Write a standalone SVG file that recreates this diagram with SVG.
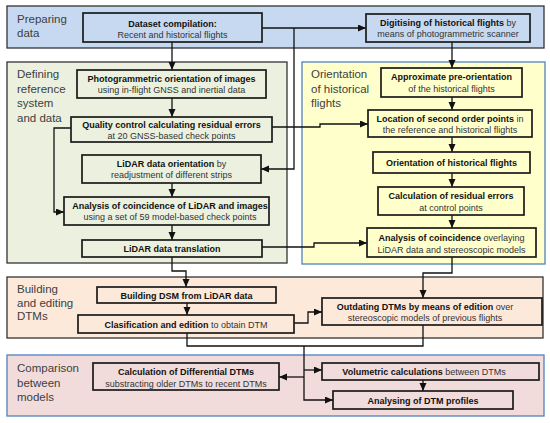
<svg xmlns="http://www.w3.org/2000/svg" width="550" height="423" viewBox="0 0 550 423">
<style>
text{font-family:"Liberation Sans",Arial,sans-serif}
.sec{stroke-width:1.3}
.lab{font-size:11.5px;fill:#404040}
.box{stroke:#1a1a1a;stroke-width:1.7}
.t{font-size:9px;fill:#333;text-anchor:middle}
.b{font-weight:bold;fill:#111}
.c{fill:none;stroke:#111;stroke-width:1.3}
.a{marker-end:url(#ah)}
</style>
<defs>
<marker id="ah" markerUnits="userSpaceOnUse" markerWidth="8" markerHeight="8" refX="8" refY="3.5" orient="auto">
<path d="M0,0 L8,3.5 L0,7 z" fill="#111"/>
</marker>
</defs>

<g id="sec-preparing">
<rect class="sec" x="7" y="6" width="537" height="42" fill="#c6d9f1" stroke="#333"/>
<text class="lab" x="17" y="23">Preparing</text>
<text class="lab" x="17" y="37">data</text>
</g>
<g id="sec-defining">
<rect class="sec" x="7" y="62" width="280" height="201" fill="#ebf1de" stroke="#333"/>
<text class="lab" x="17" y="78">Defining</text>
<text class="lab" x="17" y="93">reference</text>
<text class="lab" x="17" y="107">system</text>
<text class="lab" x="17" y="122">and data</text>
</g>
<g id="sec-orientation">
<rect class="sec" x="302" y="62" width="243" height="202" fill="#ffffcc" stroke="#4f81bd"/>
<text class="lab" x="311" y="78">Orientation</text>
<text class="lab" x="311" y="93">of historical</text>
<text class="lab" x="311" y="107">flights</text>
</g>
<g id="sec-building">
<rect class="sec" x="7" y="277" width="536" height="61" fill="#fde9d9" stroke="#333"/>
<text class="lab" x="17" y="293">Building</text>
<text class="lab" x="17" y="307">and editing</text>
<text class="lab" x="17" y="320">DTMs</text>
</g>
<g id="sec-comparison">
<rect class="sec" x="7" y="355" width="537" height="61" fill="#f2dcdb" stroke="#4f81bd"/>
<text class="lab" x="17" y="372">Comparison</text>
<text class="lab" x="17" y="387">between</text>
<text class="lab" x="17" y="401">models</text>
</g>

<g id="connectors">
<path class="c a" d="M262,28 H366"/>
<path class="c a" d="M294,28 V169 H261"/>
<path class="c a" d="M172,42 V70"/>
<path class="c a" d="M172,98 V117"/>
<path class="c a" d="M71,128 H54 V212 H64"/>
<path class="c a" d="M272,127 H320 V124 H368"/>
<path class="c a" d="M172,183 V197"/>
<path class="c a" d="M172,225 V240"/>
<path class="c a" d="M262,247 H314 V243 H367"/>
<path class="c a" d="M172,257 V271 H186 V287"/>
<path class="c a" d="M452,42 V68"/>
<path class="c a" d="M452,97 V110"/>
<path class="c a" d="M452,137 V152"/>
<path class="c a" d="M452,173 V187"/>
<path class="c a" d="M452,215 V228"/>
<path class="c a" d="M452,257 V273 H423 V298"/>
<path class="c a" d="M187,303 V315"/>
<path class="c a" d="M294,323 H308 V312 H322"/>
<path class="c" d="M187,333 V346 H423 V325"/>
<path class="c a" d="M304,346 V400 H333"/>
<path class="c a" d="M304,370 H322"/>
<path class="c a" d="M304,377 H279"/>
<path class="c a" d="M423,380 V391"/>
</g>

<g id="n-dataset">
<rect class="box" x="83" y="13" width="179" height="29" fill="#c6d9f1"/>
<text class="t" x="172.5" y="27"><tspan class="b">Dataset compilation:</tspan></text>
<text class="t" x="172.5" y="38">Recent and historical flights</text>
</g>
<g id="n-digitising">
<rect class="box" x="366" y="14" width="164" height="28" fill="#c6d9f1"/>
<text class="t" x="448" y="26"><tspan class="b">Digitising of historical flights</tspan> by</text>
<text class="t" x="448" y="37">means of photogrammetric scanner</text>
</g>
<g id="n-photo">
<rect class="box" x="77" y="70" width="189" height="28" fill="#ebf1de"/>
<text class="t" x="171.5" y="82"><tspan class="b">Photogrammetric orientation of images</tspan></text>
<text class="t" x="171.5" y="93">using in-flight GNSS and inertial data</text>
</g>
<g id="n-quality">
<rect class="box" x="71" y="117" width="201" height="25" fill="#ebf1de"/>
<text class="t" x="171.5" y="128"><tspan class="b">Quality control calculating residual errors</tspan></text>
<text class="t" x="171.5" y="138.5">at 20 GNSS-based check points</text>
</g>
<g id="n-lidar-orient">
<rect class="box" x="82" y="155" width="179" height="28" fill="#ebf1de"/>
<text class="t" x="171.5" y="166.5"><tspan class="b">LiDAR data orientation</tspan> by</text>
<text class="t" x="171.5" y="177.5">readjustment of different strips</text>
</g>
<g id="n-analysis-lidar">
<rect class="box" x="64" y="197" width="205" height="28" fill="#ebf1de"/>
<text class="t" x="170" y="208.5"><tspan class="b">Analysis of coincidence of LiDAR and images</tspan></text>
<text class="t" x="170" y="220">using a set of 59 model-based check points</text>
</g>
<g id="n-lidar-trans">
<rect class="box" x="82" y="240" width="180" height="17" fill="#ebf1de"/>
<text class="t" x="172" y="251.5"><tspan class="b">LiDAR data translation</tspan></text>
</g>
<g id="n-approx">
<rect class="box" x="381" y="68" width="141" height="29" fill="#ffffcc"/>
<text class="t" x="451.5" y="80"><tspan class="b">Approximate pre-orientation</tspan></text>
<text class="t" x="451.5" y="91.5">of the historical flights</text>
</g>
<g id="n-location">
<rect class="box" x="368" y="110" width="164" height="27" fill="#ffffcc"/>
<text class="t" x="450" y="121.5"><tspan class="b">Location of second order points</tspan> in</text>
<text class="t" x="450" y="133">the reference and historical flights</text>
</g>
<g id="n-orient-hist">
<rect class="box" x="373" y="152" width="157" height="21" fill="#ffffcc"/>
<text class="t" x="451.5" y="165.5"><tspan class="b">Orientation of historical flights</tspan></text>
</g>
<g id="n-calc-res">
<rect class="box" x="378" y="187" width="146" height="28" fill="#ffffcc"/>
<text class="t" x="451" y="199"><tspan class="b">Calculation of residual errors</tspan></text>
<text class="t" x="451" y="211">at control points</text>
</g>
<g id="n-analysis-coinc">
<rect class="box" x="367" y="228" width="169" height="29" fill="#ffffcc"/>
<text class="t" x="451.5" y="241"><tspan class="b">Analysis of coincidence</tspan> overlaying</text>
<text class="t" x="451.5" y="252.5">LiDAR data and stereoscopic models</text>
</g>
<g id="n-dsm">
<rect class="box" x="97" y="287" width="179" height="16" fill="#fde9d9"/>
<text class="t" x="186.5" y="298.5"><tspan class="b">Building DSM from LiDAR data</tspan></text>
</g>
<g id="n-clasif">
<rect class="box" x="78" y="315" width="216" height="18" fill="#fde9d9"/>
<text class="t" x="186" y="327.5"><tspan class="b">Clasification and edition</tspan> to obtain DTM</text>
</g>
<g id="n-outdating">
<rect class="box" x="322" y="298" width="220" height="27" fill="#fde9d9"/>
<text class="t" x="425" y="310"><tspan class="b">Outdating DTMs by means of edition</tspan> over</text>
<text class="t" x="425" y="321">stereoscopic models of previous flights</text>
</g>
<g id="n-diff">
<rect class="box" x="93" y="363" width="186" height="27" fill="#f2dcdb"/>
<text class="t" x="186" y="375"><tspan class="b">Calculation of Differential DTMs</tspan></text>
<text class="t" x="186" y="386.5">substracting older DTMs to recent DTMs</text>
</g>
<g id="n-volumetric">
<rect class="box" x="322" y="363" width="217" height="17" fill="#f2dcdb"/>
<text class="t" x="424" y="375"><tspan class="b">Volumetric calculations</tspan> between DTMs</text>
</g>
<g id="n-profiles">
<rect class="box" x="333" y="391" width="180" height="18" fill="#f2dcdb"/>
<text class="t" x="423" y="403.5"><tspan class="b">Analysing of DTM profiles</tspan></text>
</g>
</svg>
